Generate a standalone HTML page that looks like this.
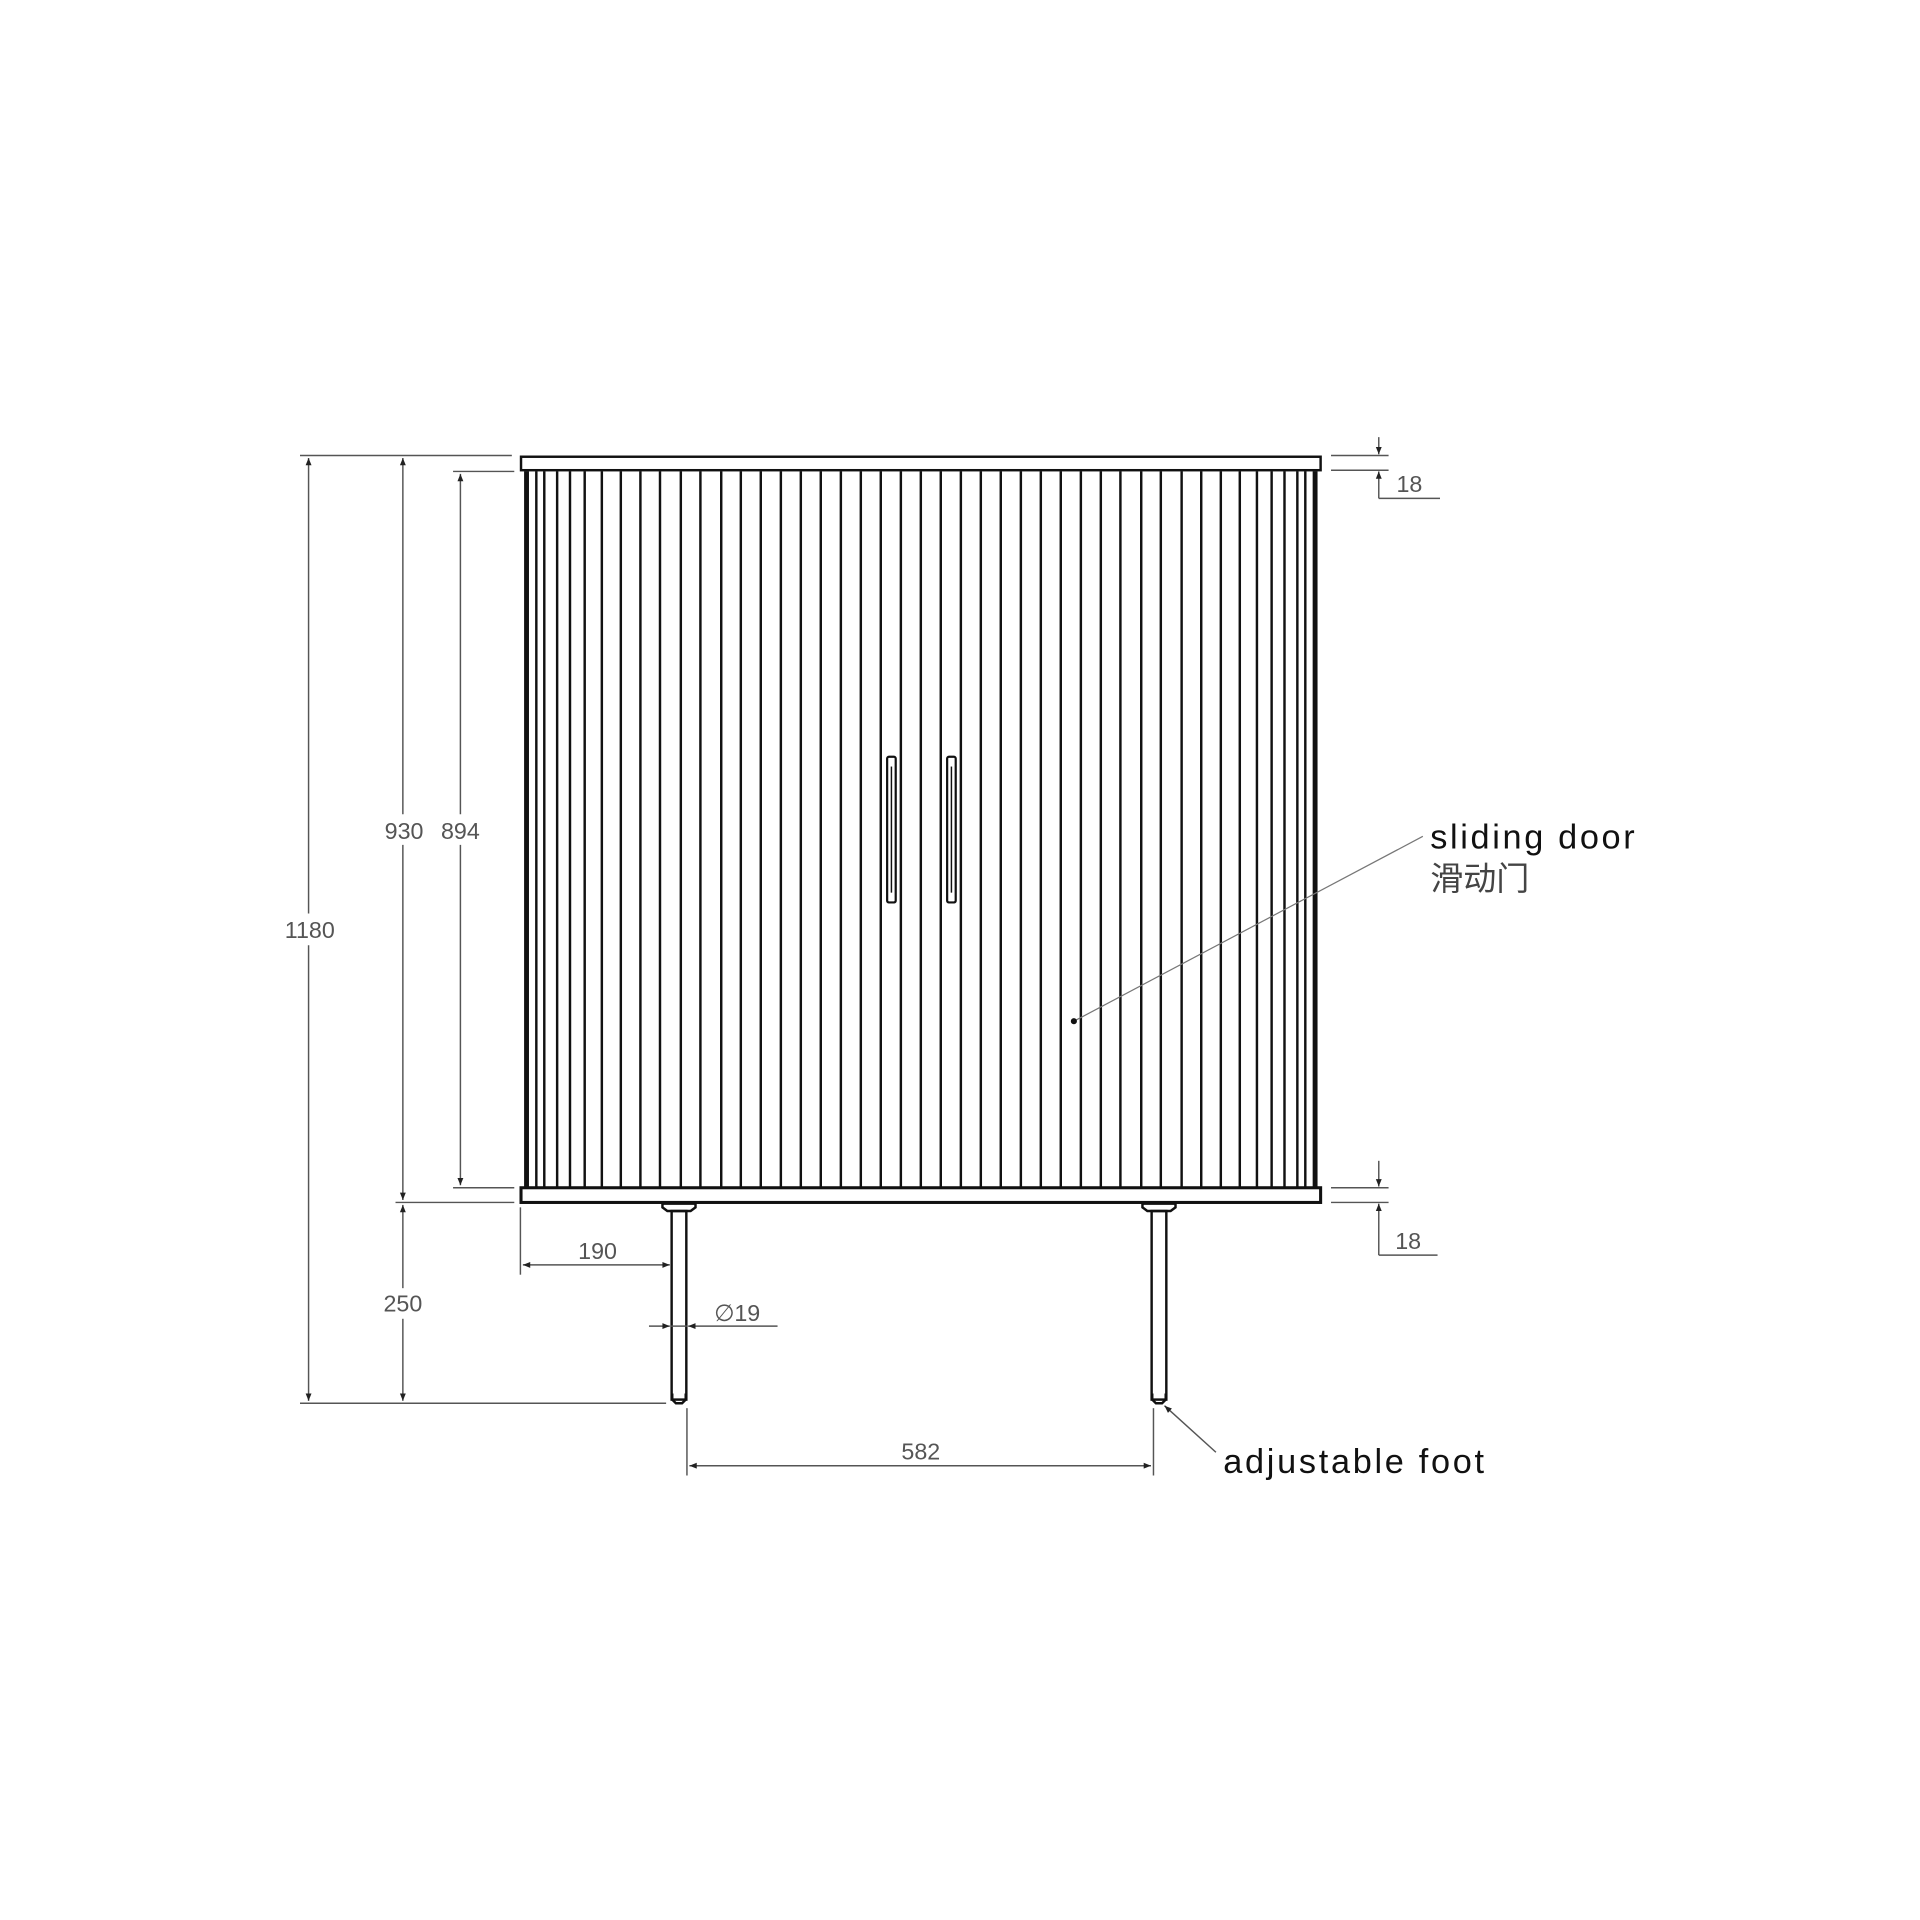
<!DOCTYPE html>
<html><head><meta charset="utf-8"><style>html,body{margin:0;padding:0;background:#fff}svg{display:block}</style></head><body>
<svg width="1920" height="1920" viewBox="0 0 1568 1568" xmlns="http://www.w3.org/2000/svg">
<defs>
<marker id="a" viewBox="0 0 10 10" refX="10" refY="5" markerWidth="9" markerHeight="6" orient="auto-start-reverse" markerUnits="userSpaceOnUse"><path d="M0,1 L10,5 L0,9 z" fill="#222"/></marker>
</defs>
<rect width="1568" height="1568" fill="#fff"/>
<g stroke="#111" fill="none">
<rect x="425.5" y="373" width="653" height="11" stroke-width="2"/>
<rect x="425.5" y="970" width="653" height="12" stroke-width="2.5"/>
<line x1="430" y1="385" x2="430" y2="970" stroke-width="4"/>
<line x1="1074" y1="385" x2="1074" y2="970" stroke-width="4"/>
<g stroke-width="2">
<line x1="438" y1="385" x2="438" y2="970"/><line x1="444.5" y1="385" x2="444.5" y2="970"/><line x1="455" y1="385" x2="455" y2="970"/><line x1="465.5" y1="385" x2="465.5" y2="970"/><line x1="477.5" y1="385" x2="477.5" y2="970"/><line x1="491.5" y1="385" x2="491.5" y2="970"/><line x1="507" y1="385" x2="507" y2="970"/><line x1="523" y1="385" x2="523" y2="970"/><line x1="539" y1="385" x2="539" y2="970"/><line x1="556" y1="385" x2="556" y2="970"/><line x1="572" y1="385" x2="572" y2="970"/><line x1="589" y1="385" x2="589" y2="970"/>
<line x1="605" y1="385" x2="605" y2="970"/><line x1="621.3" y1="385" x2="621.3" y2="970"/><line x1="637.7" y1="385" x2="637.7" y2="970"/><line x1="654" y1="385" x2="654" y2="970"/><line x1="670.3" y1="385" x2="670.3" y2="970"/><line x1="686.7" y1="385" x2="686.7" y2="970"/><line x1="703" y1="385" x2="703" y2="970"/><line x1="719.3" y1="385" x2="719.3" y2="970"/><line x1="735.7" y1="385" x2="735.7" y2="970"/><line x1="752" y1="385" x2="752" y2="970"/><line x1="768.3" y1="385" x2="768.3" y2="970"/><line x1="784.7" y1="385" x2="784.7" y2="970"/><line x1="801" y1="385" x2="801" y2="970"/><line x1="817.3" y1="385" x2="817.3" y2="970"/><line x1="833.7" y1="385" x2="833.7" y2="970"/><line x1="850" y1="385" x2="850" y2="970"/><line x1="866.3" y1="385" x2="866.3" y2="970"/><line x1="882.7" y1="385" x2="882.7" y2="970"/><line x1="899" y1="385" x2="899" y2="970"/>
<line x1="915" y1="385" x2="915" y2="970"/><line x1="932" y1="385" x2="932" y2="970"/><line x1="948" y1="385" x2="948" y2="970"/><line x1="965" y1="385" x2="965" y2="970"/><line x1="981" y1="385" x2="981" y2="970"/><line x1="997" y1="385" x2="997" y2="970"/><line x1="1012.5" y1="385" x2="1012.5" y2="970"/><line x1="1026.5" y1="385" x2="1026.5" y2="970"/><line x1="1038.5" y1="385" x2="1038.5" y2="970"/><line x1="1049" y1="385" x2="1049" y2="970"/><line x1="1059.5" y1="385" x2="1059.5" y2="970"/><line x1="1066" y1="385" x2="1066" y2="970"/>
</g>
<!-- handles -->
<rect x="724.5" y="618" width="7" height="119" rx="1.5" fill="#fff" stroke-width="1.8"/>
<line x1="728" y1="626" x2="728" y2="729" stroke-width="1.2"/>
<rect x="773.5" y="618" width="7" height="119" rx="1.5" fill="#fff" stroke-width="1.8"/>
<line x1="777" y1="626" x2="777" y2="729" stroke-width="1.2"/>
<!-- legs -->
<g stroke-width="2">
<path d="M541,983 h27 v3 l-4,3 h-19 l-4,-3 z" fill="#fff"/>
<rect x="548.5" y="989" width="12" height="154"/>
<path d="M549,1138 v5 l3,3 h5 l3,-3 v-5"/>
<path d="M933,983 h27 v3 l-4,3 h-19 l-4,-3 z" fill="#fff"/>
<rect x="940.5" y="989" width="12" height="154"/>
<path d="M941,1138 v5 l3,3 h5 l3,-3 v-5"/>
</g>
</g>
<!-- dimension lines -->
<g stroke="#555" stroke-width="1.2" fill="none">
<line x1="245" y1="372" x2="418" y2="372"/>
<line x1="245" y1="1146" x2="544" y2="1146"/>
<line x1="370" y1="385" x2="420" y2="385"/>
<line x1="370" y1="970" x2="420" y2="970"/>
<line x1="323" y1="982" x2="420" y2="982"/>
<line x1="252" y1="374" x2="252" y2="746" marker-start="url(#a)"/>
<line x1="252" y1="772" x2="252" y2="1144" marker-end="url(#a)"/>
<line x1="329" y1="374" x2="329" y2="665" marker-start="url(#a)"/>
<line x1="329" y1="690" x2="329" y2="980" marker-end="url(#a)"/>
<line x1="376" y1="387" x2="376" y2="665" marker-start="url(#a)"/>
<line x1="376" y1="690" x2="376" y2="968" marker-end="url(#a)"/>
<line x1="329" y1="984" x2="329" y2="1052" marker-start="url(#a)"/>
<line x1="329" y1="1077" x2="329" y2="1144" marker-end="url(#a)"/>
<line x1="425" y1="986" x2="425" y2="1041"/>
<line x1="427" y1="1033" x2="547" y2="1033" marker-start="url(#a)" marker-end="url(#a)"/>
<line x1="530" y1="1083" x2="547" y2="1083" marker-end="url(#a)"/>
<line x1="635" y1="1083" x2="562" y2="1083" marker-end="url(#a)"/>
<line x1="548" y1="1083" x2="561" y2="1083"/>
<line x1="561" y1="1150" x2="561" y2="1205"/>
<line x1="942" y1="1150" x2="942" y2="1205"/>
<line x1="563" y1="1197" x2="940" y2="1197" marker-start="url(#a)" marker-end="url(#a)"/>
<line x1="1087" y1="372" x2="1134" y2="372"/>
<line x1="1087" y1="384" x2="1134" y2="384"/>
<line x1="1126" y1="357" x2="1126" y2="371" marker-end="url(#a)"/>
<line x1="1126" y1="407" x2="1126" y2="385" marker-end="url(#a)"/>
<line x1="1126" y1="407" x2="1176" y2="407"/>
<line x1="1087" y1="970" x2="1134" y2="970"/>
<line x1="1087" y1="982" x2="1134" y2="982"/>
<line x1="1126" y1="948" x2="1126" y2="969" marker-end="url(#a)"/>
<line x1="1126" y1="1025" x2="1126" y2="983" marker-end="url(#a)"/>
<line x1="1126" y1="1025" x2="1174" y2="1025"/>
<line x1="877" y1="834" x2="1162" y2="683" stroke="#777" stroke-width="1"/>
<line x1="993" y1="1186" x2="951" y2="1148" stroke="#555" stroke-width="1.2" marker-end="url(#a)"/>
</g>
<circle cx="877" cy="834" r="2.5" fill="#111"/>
<g font-family="Liberation Sans, sans-serif" font-size="19" fill="#555" text-anchor="middle">
<text x="253" y="766">1180</text>
<text x="330" y="685">930</text>
<text x="376" y="685">894</text>
<text x="329" y="1071">250</text>
<text x="488" y="1028">190</text>
<text x="602" y="1079">∅19</text>
<text x="752" y="1192">582</text>
<text x="1151" y="402">18</text>
<text x="1150" y="1020">18</text>
</g>
<g font-family="Liberation Sans, 'Noto Sans CJK SC', sans-serif" font-size="28" fill="#111">
<text x="1168" y="693" textLength="167">sliding door</text>
<text x="1168" y="727" fill="#444" font-size="27">滑动门</text>
<text x="999" y="1203" textLength="213">adjustable foot</text>
</g>
</svg>
</body></html>
